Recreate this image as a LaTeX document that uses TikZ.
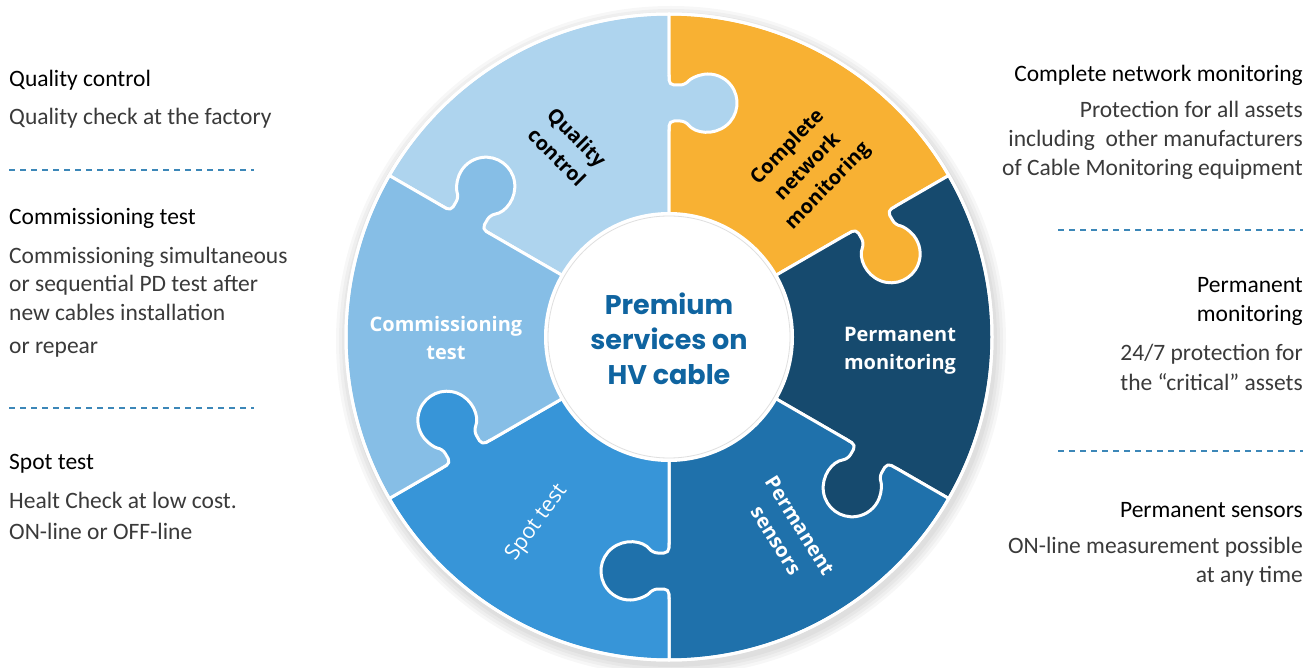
\documentclass[tikz,border=0pt]{standalone}
\usepackage{fontspec}
\setmainfont{Carlito}
\newfontfamily\piecefont{Open Sans}
\newfontfamily\hubfont{Poppins}
\usepackage{tikz}
\usetikzlibrary{positioning}
\usepackage{xcolor}
\definecolor{qualblue}{HTML}{AED4EE}
\definecolor{netorange}{HTML}{F8B133}
\definecolor{monnavy}{HTML}{164A6E}
\definecolor{sensblue}{HTML}{1F71AB}
\definecolor{spotblue}{HTML}{3795D8}
\definecolor{commblue}{HTML}{86BEE6}
\definecolor{hubblue}{HTML}{0F64A0}
\definecolor{sepblue}{HTML}{3C87B8}
\definecolor{bodygray}{HTML}{3A3A3A}

\begin{document}
\begin{tikzpicture}[x=1pt,y=1pt,
		piece/.style={draw=white,line width=3pt,line join=round},
		tabline/.style={draw=white,line width=3pt,line join=round,line cap=round},
		sep/.style={sepblue,line width=1.3pt,dash pattern=on 6pt off 5pt},
		title/.style={inner sep=0pt,font=\fontsize{23.5}{29.5}\selectfont,text=black},
		body/.style={inner sep=0pt,font=\fontsize{23.5}{29}\selectfont,text=bodygray},
		label/.style={align=center,inner sep=0pt,font=\piecefont\bfseries\fontsize{20}{28}\selectfont}]
			\useasboundingbox (0,0) rectangle (1315,-668);
			\fill[white] (0,0) rectangle (1315,-668);
			% shadow of the wheel
			\foreach \r in {335,332,329,326}
			\fill[black,opacity=0.03] (671,-341) circle (\r);
			% the six pieces
			\foreach \a/\col in {90/qualblue,30/netorange,-30/monnavy,-90/sensblue,-150/spotblue,150/commblue}
			{
				\begin{scope}[shift={(669,-337)},rotate=\a]
					\filldraw[piece,fill=\col] (0:118) -- (0:323) arc[start angle=0,end angle=60,radius=323] -- (60:118) arc[start angle=60,end angle=0,radius=118] -- cycle;
				\end{scope}
			}
			% the tabs
			\foreach \a/\col in {90/qualblue,30/netorange,-30/monnavy,-90/sensblue,-150/spotblue,150/commblue}
			{
				\begin{scope}[shift={(669,-337)},rotate=\a]
					\fill[\col,rounded corners=5pt] (206,0) -- (216,0) -- (216,-16.3) arc[start angle=128.4,end angle=411.6,radius=29] -- (252,0) -- (262,0) -- (262,6) -- (206,6) -- cycle;
					\draw[tabline,rounded corners=5pt] (206,0) -- (216,0) -- (216,-16.3) arc[start angle=128.4,end angle=411.6,radius=29] -- (252,0) -- (262,0);
				\end{scope}
			}
			\draw[white,line width=3pt] (669,-337) circle (323);
			% the hub
			\fill[white] (669,-337) circle (125);
			\draw[gray!25,line width=0.8pt] (669,-337) circle (121);
			\node[align=center,text=hubblue,font=\hubfont\bfseries\fontsize{27}{35}\selectfont] (hub) at (669,-339) {Premium\\services on\\HV cable};
			% labels on the pieces
			\node[label,rotate=-45] (lblqual) at (567,-147) {Quality\\control};
			\node[label,rotate=46] (lblnet) at (808,-167) {Complete\\network\\monitoring};
			\node[label,text=white] (lblmon) at (900,-351) {Permanent\\monitoring};
			\node[label,text=white,rotate=-58] (lblsens) at (788,-533) {Permanent\\sensors};
			\node[label,text=white,font=\piecefont\fontsize{21.5}{28}\selectfont,rotate=54] (lblspot) at (537,-523) {Spot test};
			\node[label,text=white] (lblcomm) at (446,-338) {Commissioning\\test};
			% left column
			\node[title,anchor=base west] (qctitle) at (9,-87) {Quality control};
			\node[body,anchor=base west] (qcbody) at (9,-125) {Quality check at the factory};
			\coordinate (sepa1) at (9,-170);
			\coordinate (sepa2) at (254,-170);
			\draw[sep] (sepa1) -- (sepa2);
			\node[title,anchor=base west] (cttitle) at (9,-225) {Commissioning test};
			\node[body,anchor=base west,align=left] (ctbody) at (9,-321) {Commissioning simultaneous\\or sequential PD test after\\new cables installation};
			\node[body,anchor=base west] (ctmore) at (9,-353) {or repear};
			\coordinate (sepb1) at (9,-408);
			\coordinate (sepb2) at (254,-408);
			\draw[sep] (sepb1) -- (sepb2);
			\node[title,anchor=base west] (sttitle) at (9,-469) {Spot test};
			\node[body,anchor=base west,align=left,font=\fontsize{23.5}{31}\selectfont] (stbody) at (9,-539) {Healt Check at low cost.\\ON-line or OFF-line};
			% right column
			\node[title,anchor=base east] (cntitle) at (1303,-82) {Complete network monitoring};
			\node[body,anchor=base east,align=right] (cnbody) at (1303,-176) {Protection for all assets\\including\ \ other manufacturers\\of Cable Monitoring equipment};
			\coordinate (sepc1) at (1058,-230);
			\coordinate (sepc2) at (1303,-230);
			\draw[sep] (sepc1) -- (sepc2);
			\node[title,anchor=base east,align=right] (pmtitle) at (1303,-322) {Permanent\\monitoring};
			\node[body,anchor=base east,align=right] (pmbody) at (1303,-390) {24/7 protection for\\the “critical” assets};
			\coordinate (sepd1) at (1058,-451);
			\coordinate (sepd2) at (1303,-451);
			\draw[sep] (sepd1) -- (sepd2);
			\node[title,anchor=base east] (pstitle) at (1303,-517) {Permanent sensors};
			\node[body,anchor=base east,align=right] (psbody) at (1303,-582) {ON-line measurement possible\\at any time};
		\end{tikzpicture}
\end{document}
